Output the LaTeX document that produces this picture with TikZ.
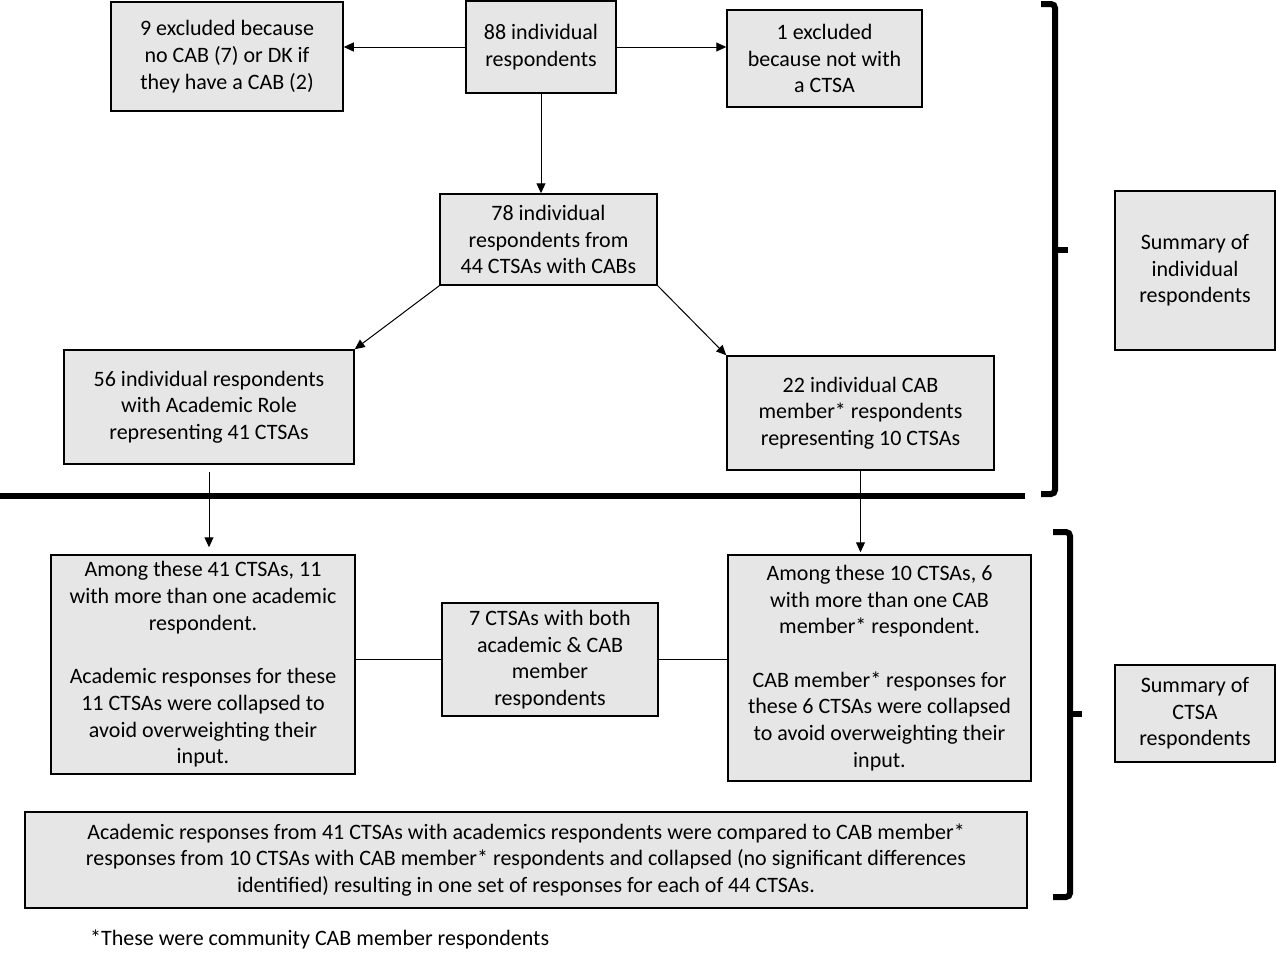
\documentclass[tikz,border=0pt]{standalone}
\usepackage{fontspec}
\setmainfont{Carlito}
\usetikzlibrary{arrows.meta}
\definecolor{boxfill}{HTML}{E6E6E6}
\begin{document}
\begin{tikzpicture}[x=1pt,y=1pt,
  box/.style={draw=black, line width=1.5pt, fill=boxfill, inner sep=0pt, align=center,
    font=\fontsize{22}{26.7}\selectfont},
  arr/.style={-{Triangle[length=10pt,width=9pt]}, line width=1pt},
  conn/.style={line width=1pt},
  brace/.style={line width=6pt, rounded corners=4pt}]
\useasboundingbox (0,0) rectangle (1276,-953);
\node[box, minimum width=232pt, minimum height=109pt] (b1) at (227,-56.5) {9 excluded because\\no CAB (7) or DK if\\they have a CAB (2)};
\node[box, minimum width=150pt, minimum height=92pt] (b2) at (541,-47) {88 individual\\respondents};
\node[box, minimum width=195pt, minimum height=97pt] (b3) at (824.5,-58.5) {1 excluded\\because not with\\a CTSA};
\node[box, minimum width=217pt, minimum height=91pt] (b4) at (548.5,-239.5) {78 individual\\respondents from\\44 CTSAs with CABs};
\node[box, minimum width=290pt, minimum height=114pt] (b5) at (209,-407) {56 individual respondents\\with Academic Role\\representing 41 CTSAs};
\node[box, minimum width=267pt, minimum height=114pt] (b6) at (860.5,-413) {22 individual CAB\\member* respondents\\representing 10 CTSAs};
\node[box, minimum width=160pt, minimum height=159pt] (b7) at (1195,-270.5) {Summary of\\individual\\respondents};
\node[box, minimum width=304pt, minimum height=219pt] (b8) at (203,-664.5) {Among these 41 CTSAs, 11\\with more than one academic\\respondent.\\[26.7pt]Academic responses for these\\11 CTSAs were collapsed to\\avoid overweighting their\\input.};
\node[box, minimum width=216pt, minimum height=113pt] (b9) at (550,-659.5) {7 CTSAs with both\\academic \& CAB\\member\\respondents};
\node[box, minimum width=303pt, minimum height=226pt] (b10) at (879.5,-668) {Among these 10 CTSAs, 6\\with more than one CAB\\member* respondent.\\[26.7pt]CAB member* responses for\\these 6 CTSAs were collapsed\\to avoid overweighting their\\input.};
\node[box, minimum width=160pt, minimum height=97pt] (b11) at (1195,-713.5) {Summary of\\CTSA\\respondents};
\node[box, minimum width=1002pt, minimum height=96pt] (b12) at (526,-860) {Academic responses from 41 CTSAs with academics respondents were compared to CAB member*\\responses from 10 CTSAs with CAB member* respondents and collapsed (no significant differences\\identified) resulting in one set of responses for each of 44 CTSAs.};
\node[anchor=west, inner sep=0pt, font=\fontsize{22}{26.7}\selectfont] (foot) at (90,-939) {*These were community CAB member respondents};

\draw[arr] (b2.west) -- (b2.west -| b1.east);
\draw[arr] (b2.east) -- (b2.east -| b3.west);
\draw[arr] (b2.south) -- (b2.south |- b4.north);
\draw[arr] (b4.south west) -- (b5.north east);
\draw[arr] (b4.south east) -- (b6.north west);
\draw[arr] ([yshift=-7pt]b5.south) -- ([yshift=7pt]b5.south |- b8.north);
\draw[arr] (b6.south) -- ([yshift=2pt]b6.south |- b10.north);
\draw[conn] (b9.west -| b8.east) -- (b9.west);
\draw[conn] (b9.east) -- (b9.east -| b10.west);

\draw[line width=5.5pt] (0,-496) -- (1025,-496);

\draw[brace] (1041,-4) -- (1055,-4) -- (1055,-494) -- (1041,-494);
\draw[line width=6pt] (1055,-250) -- (1068,-250);
\draw[brace] (1053,-532) -- (1070,-532) -- (1070,-897) -- (1053,-897);
\draw[line width=6pt] (1070,-714) -- (1082,-714);
\end{tikzpicture}
\end{document}
